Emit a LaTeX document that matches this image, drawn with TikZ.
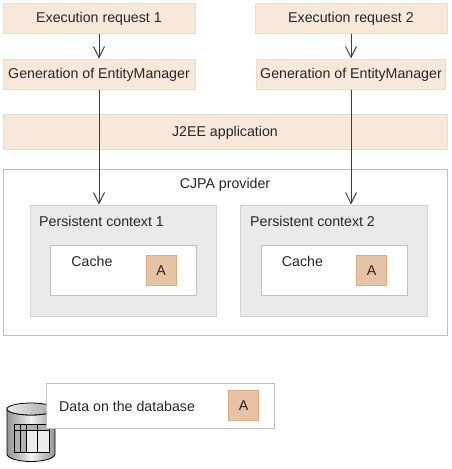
\documentclass[tikz,border=0pt]{standalone}
\usepackage{fontspec}
\setmainfont{Liberation Sans}
\usepackage{xcolor}
\usetikzlibrary{arrows.meta,positioning,shapes.geometric}
\definecolor{peach}{RGB}{248,232,217}
\definecolor{peachline}{RGB}{236,220,204}
\definecolor{tan}{RGB}{230,195,164}
\definecolor{tanline}{RGB}{222,170,125}
\definecolor{panel}{RGB}{234,234,234}
\definecolor{frameline}{RGB}{190,190,190}
\definecolor{inkline}{RGB}{60,60,60}

\begin{document}
\begin{tikzpicture}[
  x=1pt, y=-1pt,
  txt/.style={font=\fontsize{14.2}{16}\selectfont, text=black!85, inner sep=0pt, text height=12pt, text depth=3pt},
  peachbox/.style={draw=peachline, fill=peach, line width=1pt, minimum height=30pt, inner sep=0pt, txt},
  framebox/.style={draw=frameline, fill=white, line width=1pt, inner sep=0pt},
  panelbox/.style={draw=panel!90!black, fill=panel, line width=1pt, minimum width=186pt, minimum height=111pt, inner sep=0pt},
  itembox/.style={draw=tanline, fill=tan, line width=1pt, minimum width=30pt, minimum height=30pt, inner sep=0pt, txt},
  arr/.style={-{Straight Barb[length=11pt,width=11pt]}, inkline, line width=1pt}
]
\useasboundingbox (0,0) rectangle (451,469);

% top row
\node[peachbox, minimum width=192pt] (req1) at (99,18) {Execution request 1};
\node[peachbox, minimum width=192pt] (req2) at (351,18) {Execution request 2};
\node[peachbox, minimum width=192pt] (gen1) at (99,74) {Generation of EntityManager};
\node[peachbox, minimum width=189pt] (gen2) at (351,74) {Generation of EntityManager};
\node[peachbox, minimum width=444pt, minimum height=35pt] (app) at (225,131.5) {J2EE application};

% provider
\node[framebox, minimum width=444pt, minimum height=166pt] (provider) at (225,252) {};
\node[txt] (providerlabel) at (225,184) {CJPA provider};
\node[panelbox] (pc1) at (123,260.5) {};
\node[panelbox, minimum width=187pt] (pc2) at (333.5,260.5) {};
\node[txt, right] (pclabel1) at (39,222) {Persistent context 1};
\node[txt, right] (pclabel2) at (250,222) {Persistent context 2};
\node[framebox, minimum width=146pt, minimum height=50pt] (cache1) at (123,270) {};
\node[framebox, minimum width=146pt, minimum height=50pt] (cache2) at (334,270) {};
\node[txt] (cachelabel1) at (92,262) {Cache};
\node[txt] (cachelabel2) at (302.5,262) {Cache};
\node[itembox] (item1) at (161,270.5) {A};
\node[itembox] (item2) at (371.5,270.5) {A};

% database icon
\shade[left color=black!42, right color=black!42, middle color=black!5, draw=black, line width=0.8pt]
  (7,409) -- (7,454) arc[start angle=180, end angle=360, x radius=24, y radius=-7.5]
  -- (55,409) arc[start angle=0, end angle=180, x radius=24, y radius=6] -- cycle;
\shade[left color=black!8, right color=black!35, draw=black, line width=0.8pt]
  (31,409) ellipse[x radius=24, y radius=6];
\fill[black!30] (14,424) rectangle (49,452);
\fill[black!8] (26,430) rectangle (49,452);
\draw[black, line width=0.8pt] (14,424) rectangle (49,452);
\draw[black, line width=0.8pt] (14,430) -- (49,430);
\foreach \xx in {20,26,37} \draw[black, line width=0.8pt] (\xx,424) -- (\xx,452);

% database data
\node[framebox, minimum width=228pt, minimum height=45pt] (data) at (160,405.5) {};
\node[txt, right] (datalabel) at (59,407) {Data on the database};
\node[itembox] (item3) at (243.5,405.5) {A};

% connectors
\draw[arr] (req1) -- (gen1);
\draw[arr] (req2) -- (gen2);
\draw[arr] (gen1) -- (gen1 |- pc1.north);
\draw[arr] (gen2) -- (gen2 |- pc2.north);
\end{tikzpicture}
\end{document}
